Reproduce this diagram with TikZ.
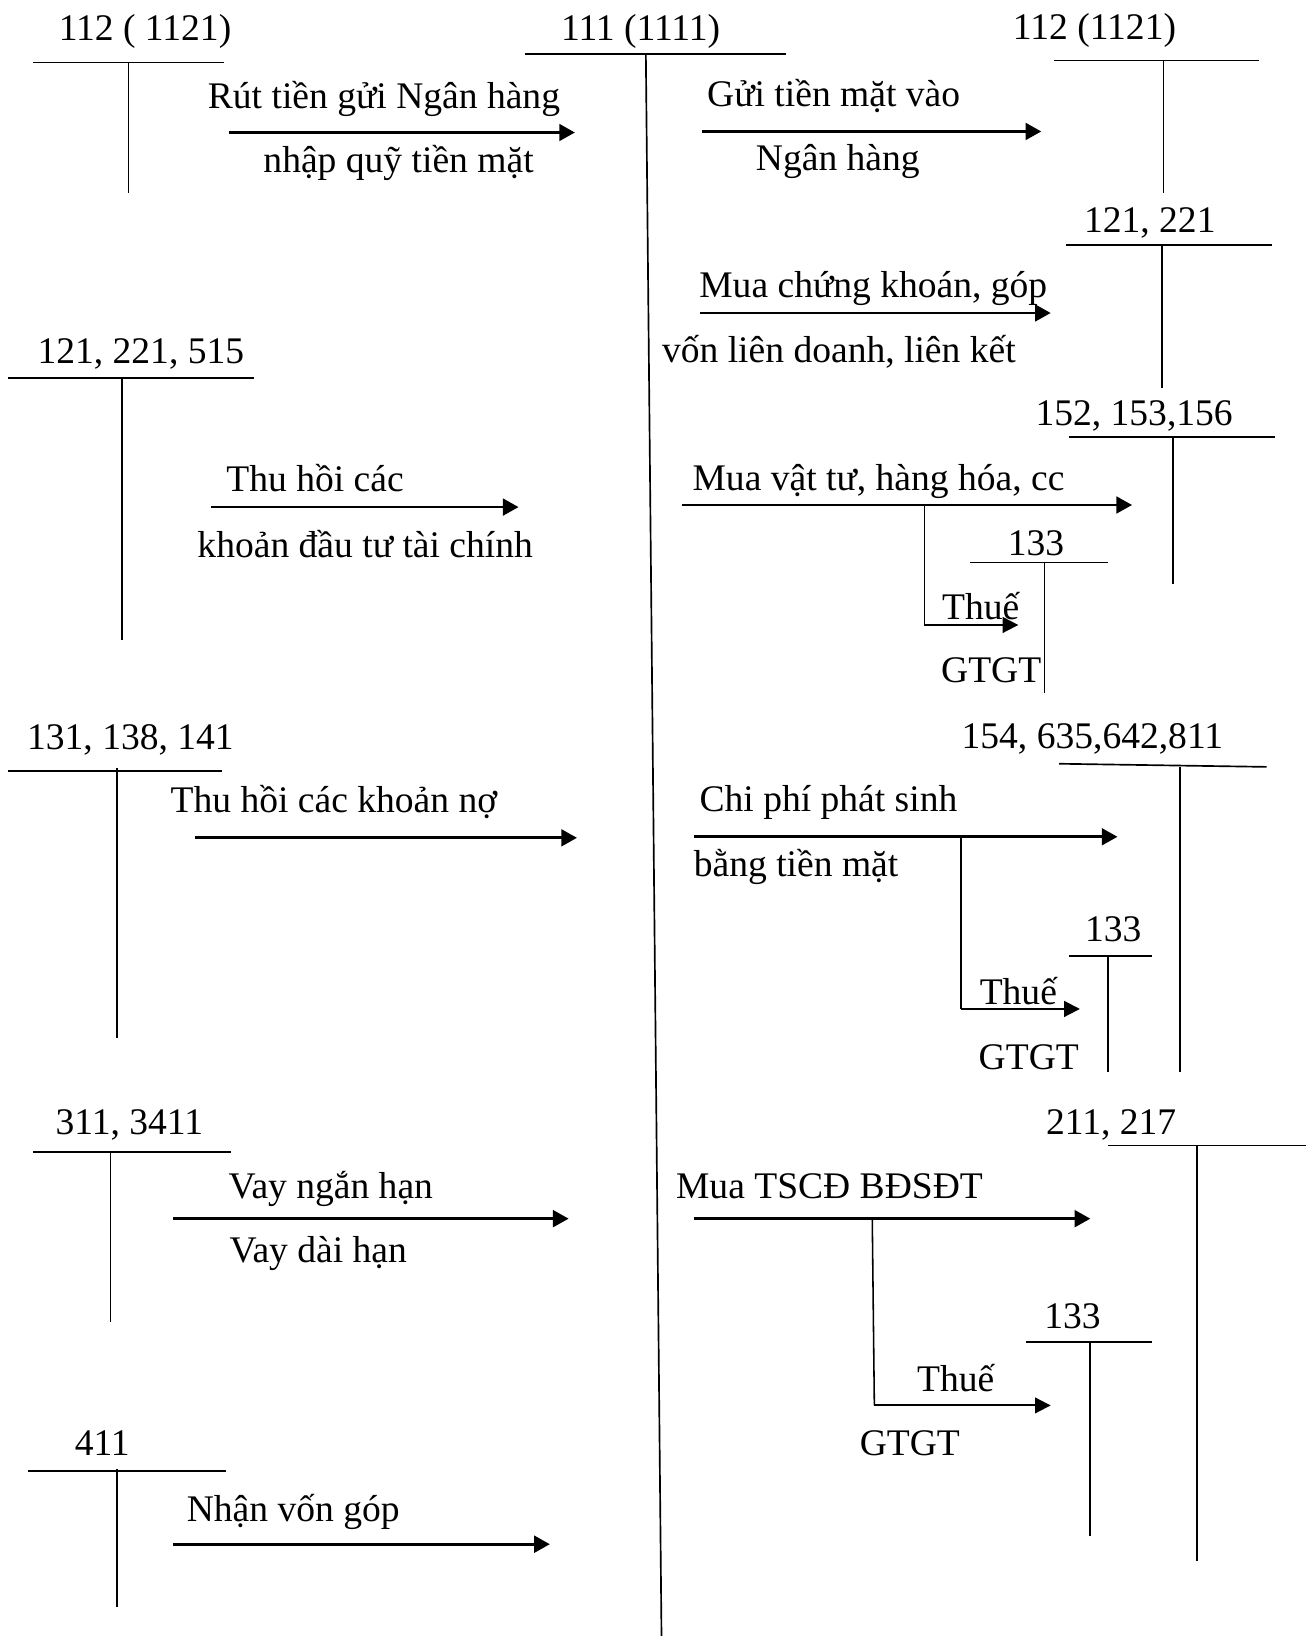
\documentclass[tikz,border=0pt]{standalone}
\usepackage{fontspec}
\setmainfont{Liberation Serif}
\usetikzlibrary{arrows.meta}
\begin{document}
\begin{tikzpicture}[x=1pt,y=-1pt,
  txt/.style={anchor=base,inner sep=0pt,font=\fontsize{36}{43}\selectfont},
  tline/.style={line width=1.6pt},
  flow/.style={line width=2.6pt,-{Triangle[length=15pt,width=16pt]}},
  taxflow/.style={line width=1.9pt,-{Triangle[length=15pt,width=15pt]}},
  branch/.style={line width=1.5pt}]
\useasboundingbox (0,0) rectangle (1259,1568);
\fill[white] (0,0) rectangle (1259,1568);

% ---- account headings
\node[txt] (h112L) at (139,39) {112 ( 1121)};
\node[txt] (h111) at (614,39) {111 (1111)};
\node[txt] (h112R) at (1049,38) {112 (1121)};
\node[txt] (h121R) at (1102,223) {121, 221};
\node[txt] (h121L) at (135,348) {121, 221, 515};
\node[txt] (h152) at (1087,408) {152, 153,156};
\node[txt] (h133a) at (993,532) {133};
\node[txt] (h131) at (125,718) {131, 138, 141};
\node[txt] (h154) at (1047,717) {154, 635,642,811};
\node[txt] (h133b) at (1067,902) {133};
\node[txt] (h311) at (124,1087) {311, 3411};
\node[txt] (h211) at (1065,1087) {211, 217};
\node[txt] (h133c) at (1028,1273) {133};
\node[txt] (h411) at (98,1395) {411};

% ---- T-account lines
\coordinate (t1a) at (32,60); \coordinate (t1b) at (215,60);
\coordinate (t1c) at (123,60); \coordinate (t1d) at (123,185);
\draw[tline] (t1a) -- (t1b); \draw[tline] (t1c) -- (t1d);

\coordinate (t2a) at (503,52); \coordinate (t2b) at (753,52);
\coordinate (t2c) at (619,52); \coordinate (t2d) at (634,1568);
\draw[tline] (t2a) -- (t2b); \draw[tline] (t2c) -- (t2d);

\coordinate (t3a) at (1010,58); \coordinate (t3b) at (1207,58);
\coordinate (t3c) at (1115,58); \coordinate (t3d) at (1115,185);
\draw[tline] (t3a) -- (t3b); \draw[tline] (t3c) -- (t3d);

\coordinate (t4a) at (1022,235); \coordinate (t4b) at (1219,235);
\coordinate (t4c) at (1114,235); \coordinate (t4d) at (1114,372);
\draw[tline] (t4a) -- (t4b); \draw[tline] (t4c) -- (t4d);

\coordinate (t5a) at (8,362); \coordinate (t5b) at (243,362);
\coordinate (t5c) at (117,362); \coordinate (t5d) at (117,613);
\draw[tline] (t5a) -- (t5b); \draw[tline] (t5c) -- (t5d);

\coordinate (t6a) at (1025,419); \coordinate (t6b) at (1222,419);
\coordinate (t6c) at (1124,419); \coordinate (t6d) at (1124,560);
\draw[tline] (t6a) -- (t6b); \draw[tline] (t6c) -- (t6d);

\coordinate (t7a) at (930,539); \coordinate (t7b) at (1062,539);
\coordinate (t7c) at (1001,539); \coordinate (t7d) at (1001,664);
\draw[tline] (t7a) -- (t7b); \draw[tline] (t7c) -- (t7d);

\coordinate (t8a) at (8,739); \coordinate (t8b) at (213,739);
\coordinate (t8c) at (112,736); \coordinate (t8d) at (112,995);
\draw[tline] (t8a) -- (t8b); \draw[tline] (t8c) -- (t8d);

\coordinate (t9a) at (1015,732); \coordinate (t9b) at (1214,735);
\coordinate (t9c) at (1131,735); \coordinate (t9d) at (1131,1027);
\draw[tline] (t9a) -- (t9b); \draw[tline] (t9c) -- (t9d);

\coordinate (t10a) at (1025,916); \coordinate (t10b) at (1104,916);
\coordinate (t10c) at (1062,916); \coordinate (t10d) at (1062,1027);
\draw[tline] (t10a) -- (t10b); \draw[tline] (t10c) -- (t10d);

\coordinate (t11a) at (32,1104); \coordinate (t11b) at (221,1104);
\coordinate (t11c) at (106,1104); \coordinate (t11d) at (106,1267);
\draw[tline] (t11a) -- (t11b); \draw[tline] (t11c) -- (t11d);

\coordinate (t12a) at (1062,1098); \coordinate (t12b) at (1252,1098);
\coordinate (t12c) at (1147,1098); \coordinate (t12d) at (1147,1496);
\draw[tline] (t12a) -- (t12b); \draw[tline] (t12c) -- (t12d);

\coordinate (t13a) at (983,1286); \coordinate (t13b) at (1104,1286);
\coordinate (t13c) at (1045,1286); \coordinate (t13d) at (1045,1472);
\draw[tline] (t13a) -- (t13b); \draw[tline] (t13c) -- (t13d);

\coordinate (t14a) at (27,1410); \coordinate (t14b) at (217,1410);
\coordinate (t14c) at (112,1408); \coordinate (t14d) at (112,1540);
\draw[tline] (t14a) -- (t14b); \draw[tline] (t14c) -- (t14d);

% ---- flows
\coordinate (a1s) at (219,127); \coordinate (a1e) at (551,127);
\draw[flow] (a1s) -- (a1e);
\node[txt] (l1a) at (368,104) {Rút tiền gửi Ngân hàng};
\node[txt] (l1b) at (382,165) {nhập quỹ tiền mặt};

\coordinate (a2s) at (673,126); \coordinate (a2e) at (998,126);
\draw[flow] (a2s) -- (a2e);
\node[txt] (l2a) at (799,102) {Gửi tiền mặt vào};
\node[txt] (l2b) at (803,163) {Ngân hàng};

\coordinate (a3s) at (671,300); \coordinate (a3e) at (1007,300);
\draw[flow] (a3s) -- (a3e);
\node[txt] (l3a) at (837,285) {Mua chứng khoán, góp};
\node[txt] (l3b) at (804,347) {vốn liên doanh, liên kết};

\coordinate (a4s) at (202,486); \coordinate (a4e) at (497,486);
\draw[flow] (a4s) -- (a4e);
\node[txt] (l4a) at (302,471) {Thu hồi các};
\node[txt] (l4b) at (350,534) {khoản đầu tư tài chính};

\coordinate (a5s) at (654,484); \coordinate (a5e) at (1085,484);
\coordinate (a5j) at (886,484); \coordinate (a5k) at (886,599); \coordinate (a5t) at (976,599);
\draw[flow] (a5s) -- (a5e);
\draw[branch] (a5j) -- (a5k);
\draw[taxflow] (a5k) -- (a5t);
\node[txt] (l5a) at (842,470) {Mua vật tư, hàng hóa, cc};
\node[txt] (l5b) at (940,594) {Thuế};
\node[txt] (l5c) at (950,654) {GTGT};

\coordinate (a6s) at (187,803); \coordinate (a6e) at (553,803);
\draw[flow] (a6s) -- (a6e);
\node[txt] (l6a) at (320,779) {Thu hồi các khoản nợ};

\coordinate (a7s) at (665,802); \coordinate (a7e) at (1071,802);
\coordinate (a7j) at (921,802); \coordinate (a7k) at (921,967); \coordinate (a7t) at (1035,967);
\draw[flow] (a7s) -- (a7e);
\draw[branch] (a7j) -- (a7k);
\draw[taxflow] (a7k) -- (a7t);
\node[txt] (l7a) at (794,778) {Chi phí phát sinh};
\node[txt] (l7b) at (763,840) {bằng tiền mặt};
\node[txt] (l7c) at (976,963) {Thuế};
\node[txt] (l7d) at (986,1025) {GTGT};

\coordinate (a8s) at (166,1168); \coordinate (a8e) at (545,1168);
\draw[flow] (a8s) -- (a8e);
\node[txt] (l8a) at (317,1149) {Vay ngắn hạn};
\node[txt] (l8b) at (305,1210) {Vay dài hạn};

\coordinate (a9s) at (665,1168); \coordinate (a9e) at (1045,1168);
\coordinate (a9j) at (836,1168); \coordinate (a9k) at (838,1347); \coordinate (a9t) at (1007,1347);
\draw[flow] (a9s) -- (a9e);
\draw[branch] (a9j) -- (a9k);
\draw[taxflow] (a9k) -- (a9t);
\node[txt] (l9a) at (795,1149) {Mua TSCĐ BĐSĐT};
\node[txt] (l9b) at (916,1334) {Thuế};
\node[txt] (l9c) at (872,1395) {GTGT};

\coordinate (a10s) at (166,1480); \coordinate (a10e) at (527,1480);
\draw[flow] (a10s) -- (a10e);
\node[txt] (l10a) at (281,1458) {Nhận vốn góp};
\end{tikzpicture}
\end{document}
